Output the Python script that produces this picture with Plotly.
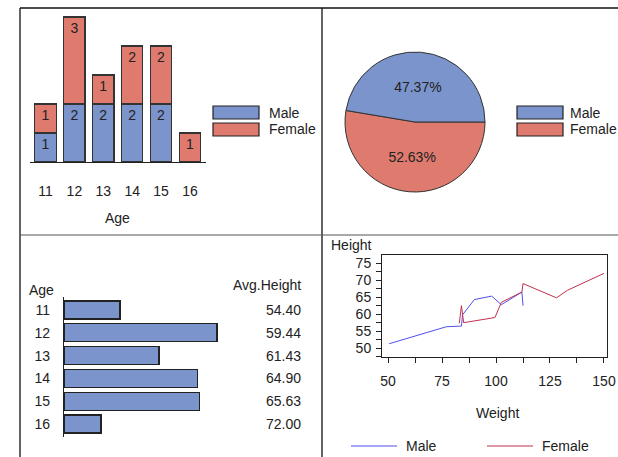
import plotly.graph_objects as go

W, H = 618, 457

# ---------------- data ----------------
ages = [11, 12, 13, 14, 15, 16]
male_counts = [1, 2, 2, 2, 2, 0]
female_counts = [1, 3, 1, 2, 2, 1]

pie_labels = ["Male", "Female"]
pie_values = [9, 10]

sum_height = [108.8, 297.2, 184.3, 259.6, 262.5, 72.0]
avg_height = [54.40, 59.44, 61.43, 64.90, 65.63, 72.00]

male_weight = [50.5, 77.0, 84.0, 84.5, 90.0, 98.0, 102.5, 112.0, 112.5]
male_height = [51.3, 56.3, 56.5, 59.8, 64.3, 65.3, 62.8, 66.5, 62.5]
female_weight = [83.0, 84.0, 85.0, 99.5, 102.5, 112.0, 112.5, 128.0, 133.0, 150.0]
female_height = [57.3, 62.5, 57.5, 59.0, 63.5, 66.5, 69.0, 64.8, 67.0, 72.0]

BLUE = "#7B94CC"
RED = "#DE7B6E"
LBLUE = "#4F4FEF"
LRED = "#C2304C"
TXT = "#222222"
FONT = "Arial, Liberation Sans, sans-serif"
FS = 14


def px(x):
    return x / W


def py(y):
    return 1 - y / H


fig = go.Figure()

# ---------------- top-left stacked bars ----------------
fig.add_trace(go.Bar(
    x=ages, y=male_counts, name="Male", marker=dict(color=BLUE, line=dict(color="#333", width=1.2)),
    text=[str(v) if v else "" for v in male_counts], textposition="inside", insidetextanchor="end",
    textfont=dict(color=TXT, size=FS, family=FONT), width=0.74, xaxis="x", yaxis="y", showlegend=False,
    textangle=0))
fig.add_trace(go.Bar(
    x=ages, y=female_counts, name="Female", marker=dict(color=RED, line=dict(color="#333", width=1.2)),
    text=[str(v) if v else "" for v in female_counts], textposition="inside", insidetextanchor="end",
    textfont=dict(color=TXT, size=FS, family=FONT), width=0.74, xaxis="x", yaxis="y", showlegend=False,
    textangle=0))

# ---------------- top-right pie ----------------
fig.add_trace(go.Pie(
    labels=pie_labels[::-1], values=pie_values[::-1], sort=False, direction="counterclockwise", rotation=90,
    marker=dict(colors=[RED, BLUE], line=dict(color="#333", width=1)),
    texttemplate="%{percent:.2%}", textposition="inside", insidetextorientation="horizontal",
    textfont=dict(color=TXT, size=FS, family=FONT),
    domain=dict(x=[px(345), px(485)], y=[py(192), py(52)]), showlegend=False))

# ---------------- bottom-left horizontal bars ----------------
fig.add_trace(go.Bar(
    y=ages, x=sum_height, orientation="h", marker=dict(color=BLUE, line=dict(color="#222", width=1.3)),
    width=0.79, xaxis="x3", yaxis="y3", showlegend=False))

# ---------------- bottom-right lines ----------------
fig.add_trace(go.Scatter(x=male_weight, y=male_height, mode="lines", line=dict(color=LBLUE, width=1),
                         xaxis="x4", yaxis="y4", showlegend=False))
fig.add_trace(go.Scatter(x=female_weight, y=female_height, mode="lines", line=dict(color=LRED, width=1),
                         xaxis="x4", yaxis="y4", showlegend=False))

axfont = dict(color=TXT, size=FS, family=FONT)

fig.update_layout(
    width=W, height=H, autosize=False, margin=dict(l=0, r=0, t=0, b=0, pad=0),
    paper_bgcolor="white", plot_bgcolor="white", barmode="stack",
    font=dict(family=FONT, color=TXT, size=FS),
    xaxis=dict(domain=[px(30), px(206)], range=[10.464, 16.554], tickmode="array", tickvals=ages,
               ticktext=[str(a) for a in ages], showline=True, linecolor="#222", linewidth=1.3,
               showgrid=False, zeroline=False, ticks="", tickfont=axfont, ticklabelstandoff=16,
               anchor="y", automargin=False),
    yaxis=dict(domain=[py(162), py(10)], range=[0, 152 / 29], visible=False, anchor="x", automargin=False),
    xaxis3=dict(domain=[px(64), px(230)], range=[0, 166 / 0.515], visible=False, anchor="y3",
                automargin=False),
    yaxis3=dict(domain=[py(437), py(297)], range=[16.57, 10.43], tickmode="array", tickvals=ages,
                ticktext=[str(a) for a in ages], showline=True, linecolor="#222", linewidth=1.3,
                showgrid=False, zeroline=False, ticks="", tickfont=axfont, ticklabelstandoff=10,
                anchor="x3", automargin=False),
    xaxis4=dict(domain=[px(382), px(607)], range=[47.2, 151.4], tickmode="linear", tick0=50, dtick=25,
                showline=True, mirror=True, linecolor="#222", linewidth=1, showgrid=False, zeroline=False,
                ticks="outside", ticklen=5, tickcolor="#222", tickfont=axfont, ticklabelstandoff=6,
                minor=dict(ticks="outside", ticklen=5, dtick=12.5, tick0=50, tickcolor="#222", showgrid=False),
                anchor="y4", automargin=False),
    yaxis4=dict(domain=[py(357), py(255)], range=[47.4, 77.4], tickmode="linear", tick0=50, dtick=5,
                showline=True, mirror=True, linecolor="#222", linewidth=1, showgrid=False, zeroline=False,
                ticks="outside", ticklen=5, tickcolor="#222", tickfont=axfont, ticklabelstandoff=2,
                minor=dict(ticks="outside", ticklen=5, dtick=2.5, tick0=50, tickcolor="#222", showgrid=False),
                anchor="x4", automargin=False),
)

shapes = []
annotations = []


def text(x, y, s, xanchor="center", yanchor="middle", **kw):
    annotations.append(dict(x=px(x), y=py(y), xref="paper", yref="paper", text=s, showarrow=False,
                            xanchor=xanchor, yanchor=yanchor, font=dict(color=TXT, size=FS, family=FONT), **kw))


def box_legend(x0, items, gap=54):
    ys = [(106, 119), (123, 136)]
    for (name, col), (y0, y1) in zip(items, ys):
        shapes.append(dict(type="rect", xref="paper", yref="paper", x0=px(x0), x1=px(x0 + 46),
                           y0=py(y1), y1=py(y0), fillcolor=col, line=dict(color="#222", width=1.2)))
        text(x0 + gap, (y0 + y1) / 2, name, xanchor="left")


box_legend(213, [("Male", BLUE), ("Female", RED)])
box_legend(517, [("Male", BLUE), ("Female", RED)], gap=51)

# line legend
for x0, name, col in [(351, "Male", LBLUE), (487, "Female", LRED)]:
    shapes.append(dict(type="line", xref="paper", yref="paper", x0=px(x0), x1=px(x0 + 46),
                       y0=py(446), y1=py(446), line=dict(color=col, width=1)))
    text(x0 + 53, 446, name, xanchor="left")

# titles
text(117, 218, "Age")
text(27, 290, "Age", xanchor="left")
text(303, 285, "Avg.Height", xanchor="right")
text(329, 245, "Height", xanchor="left")
text(497, 413, "Weight")

# avg height column
for a, v in zip(ages, avg_height):
    annotations.append(dict(x=px(303), y=a, xref="paper", yref="y3", text=f"{v:.2f}", showarrow=False,
                            xanchor="right", yanchor="middle", font=dict(color=TXT, size=FS, family=FONT)))

# panel borders
shapes += [
    dict(type="line", xref="paper", yref="paper", x0=px(20), x1=1, y0=py(8), y1=py(8),
         line=dict(color="#111", width=1.6)),
    dict(type="line", xref="paper", yref="paper", x0=px(20), x1=px(20), y0=py(8), y1=0,
         line=dict(color="#111", width=1.3)),
    dict(type="line", xref="paper", yref="paper", x0=px(322), x1=px(322), y0=py(8), y1=0,
         line=dict(color="#111", width=1.3)),
    dict(type="line", xref="paper", yref="paper", x0=px(20), x1=1, y0=py(235), y1=py(235),
         line=dict(color="#555", width=1.2)),
]

fig.update_layout(shapes=shapes, annotations=annotations)
fig.write_html(
    "out.html",
    config={"displayModeBar": False, "responsive": False},
    default_width="618px", default_height="457px",
    post_script=("document.body.style.margin='0';document.body.style.overflow='hidden';"
                 "var gd=document.getElementById('{plot_id}');"
                 "Plotly.relayout(gd,{width:618,height:457});"),
)
